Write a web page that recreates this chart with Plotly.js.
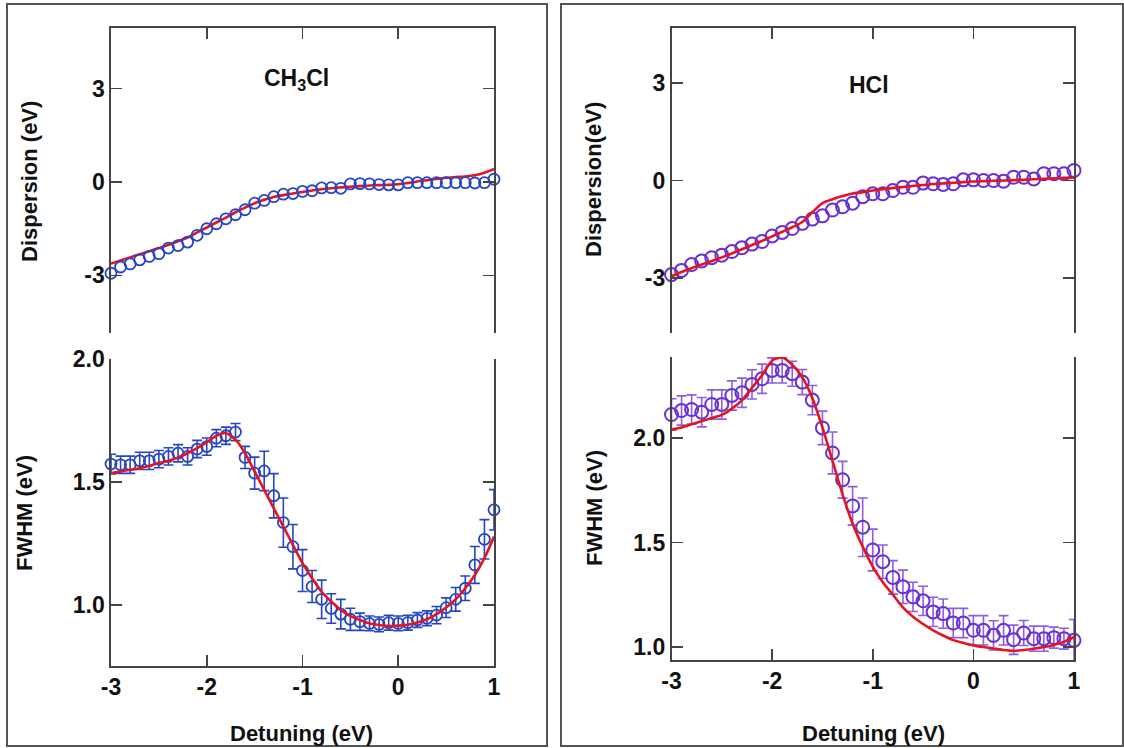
<!DOCTYPE html>
<html>
<head>
<meta charset="utf-8">
<script src="https://cdn.plot.ly/plotly-3.0.1.min.js"></script>
<style>html,body{margin:0;padding:0;background:#fff}#chart{width:1124px;height:748px}</style>
</head>
<body>
<div id="chart"></div>
<script>
// ---------- DATA ----------
const detuning = [-3.0,-2.9,-2.8,-2.7,-2.6,-2.5,-2.4,-2.3,-2.2,-2.1,-2.0,-1.9,-1.8,-1.7,-1.6,-1.5,-1.4,-1.3,-1.2,-1.1,-1.0,-0.9,-0.8,-0.7,-0.6,-0.5,-0.4,-0.3,-0.2,-0.1,0.0,0.1,0.2,0.3,0.4,0.5,0.6,0.7,0.8,0.9,1.0];

// CH3Cl
const ch3clDispData = [-2.93,-2.73,-2.63,-2.50,-2.39,-2.30,-2.12,-2.04,-1.93,-1.71,-1.50,-1.34,-1.18,-1.05,-0.89,-0.68,-0.59,-0.47,-0.39,-0.37,-0.30,-0.28,-0.19,-0.18,-0.20,-0.06,-0.05,-0.06,-0.08,-0.09,-0.09,-0.02,-0.02,-0.02,-0.02,-0.02,-0.02,-0.02,-0.03,-0.02,0.09];
const ch3clDispFit = [-2.62,-2.52,-2.42,-2.32,-2.22,-2.12,-2.02,-1.90,-1.78,-1.62,-1.46,-1.30,-1.14,-0.97,-0.82,-0.68,-0.57,-0.48,-0.42,-0.37,-0.32,-0.27,-0.23,-0.20,-0.17,-0.15,-0.13,-0.11,-0.10,-0.09,-0.07,-0.03,0.02,0.06,0.10,0.14,0.16,0.18,0.22,0.30,0.42];
const ch3clFwhmData = [1.573,1.570,1.570,1.586,1.586,1.593,1.604,1.617,1.604,1.634,1.644,1.678,1.688,1.703,1.600,1.536,1.545,1.444,1.335,1.237,1.140,1.075,1.023,0.986,0.963,0.942,0.932,0.925,0.921,0.928,0.925,0.928,0.939,0.946,0.959,0.989,1.023,1.068,1.163,1.267,1.387];
const ch3clFwhmErr = [0.04,0.035,0.035,0.035,0.035,0.035,0.035,0.035,0.035,0.035,0.035,0.035,0.035,0.035,0.045,0.065,0.08,0.09,0.10,0.09,0.085,0.065,0.078,0.06,0.06,0.045,0.035,0.03,0.03,0.03,0.03,0.03,0.03,0.03,0.035,0.04,0.048,0.05,0.075,0.08,0.082];
const ch3clFwhmFit = [1.536,1.543,1.550,1.556,1.566,1.577,1.586,1.600,1.617,1.638,1.661,1.688,1.699,1.672,1.617,1.543,1.468,1.393,1.319,1.244,1.170,1.109,1.054,1.014,0.980,0.955,0.939,0.925,0.919,0.915,0.916,0.920,0.929,0.942,0.963,0.990,1.023,1.068,1.122,1.190,1.278];

// HCl
const hclDispData = [-2.90,-2.77,-2.59,-2.48,-2.38,-2.30,-2.19,-2.07,-1.96,-1.88,-1.71,-1.60,-1.48,-1.32,-1.19,-1.09,-0.91,-0.81,-0.70,-0.50,-0.41,-0.41,-0.31,-0.21,-0.21,-0.08,-0.10,-0.12,-0.10,0.02,0.02,0.00,0.00,-0.02,0.10,0.10,0.05,0.21,0.21,0.21,0.31];
const hclDispFit = [-2.95,-2.82,-2.70,-2.59,-2.48,-2.37,-2.25,-2.12,-1.99,-1.86,-1.72,-1.58,-1.44,-1.28,-0.98,-0.70,-0.58,-0.48,-0.40,-0.36,-0.31,-0.27,-0.23,-0.20,-0.17,-0.14,-0.11,-0.09,-0.07,-0.05,-0.03,-0.02,-0.01,0.00,0.01,0.02,0.04,0.05,0.07,0.08,0.09];
const hclFwhmData = [2.112,2.131,2.136,2.123,2.160,2.160,2.203,2.216,2.256,2.283,2.323,2.323,2.307,2.267,2.181,2.048,1.928,1.800,1.675,1.573,1.464,1.408,1.333,1.288,1.240,1.221,1.168,1.160,1.115,1.115,1.080,1.080,1.056,1.080,1.035,1.067,1.040,1.040,1.045,1.040,1.032];
const hclFwhmErr = [0.075,0.07,0.07,0.07,0.07,0.07,0.07,0.07,0.07,0.07,0.06,0.06,0.06,0.06,0.07,0.08,0.10,0.088,0.092,0.14,0.10,0.08,0.08,0.08,0.07,0.07,0.07,0.07,0.07,0.07,0.07,0.07,0.07,0.07,0.07,0.06,0.06,0.06,0.05,0.05,0.10];
const hclFwhmFit = [2.040,2.050,2.065,2.080,2.095,2.110,2.140,2.180,2.240,2.300,2.370,2.385,2.350,2.290,2.190,2.050,1.890,1.730,1.590,1.480,1.385,1.310,1.250,1.190,1.145,1.110,1.080,1.055,1.033,1.020,1.008,1.000,0.993,0.986,0.982,0.986,0.992,1.000,1.010,1.025,1.048];

const panelTitles = ['CH<sub>3</sub>Cl', 'HCl'];
const xTickVals = [-3,-2,-1,0,1];
const xTickText = ['-3','-2','-1','0','1'];
const dispTickVals = [-3,0,3];
const dispTickText = ['-3','0','3'];
const fwhmTickVals = [1.0,1.5,2.0];
const fwhmTickText = ['1.0','1.5','2.0'];

// ---------- STYLE ----------
const W = 1124, H = 748;
const px = x => x / W;
const py = y => 1 - y / H;
const BLUE = '#2445c8', PURPLE = '#6a2fd6', PURPLE_ERR = '#8a5ee6', RED = '#e5141e', AX = '#444';
const FONT = {family: 'Liberation Sans, Arial, sans-serif', size: 23, color: '#111', weight: 'bold'};

function xax(domain, anchor, side, labels) {
  return {domain: domain, anchor: anchor, range: [-3, 1], side: side, showline: true, linecolor: AX, linewidth: 1.6,
    ticks: 'inside', ticklen: 11, tickwidth: 1.6, tickcolor: AX, tickmode: 'array', tickvals: xTickVals, ticktext: xTickText,
    showticklabels: labels, tickfont: FONT, showgrid: false, zeroline: false, fixedrange: true};
}
function yax(domain, anchor, range, vals, text) {
  return {domain: domain, anchor: anchor, range: range, showline: true, mirror: 'ticks', linecolor: AX, linewidth: 1.6,
    ticks: 'inside', ticklen: 11, tickwidth: 1.6, tickcolor: AX, tickmode: 'array', tickvals: vals, ticktext: text,
    tickfont: FONT, showgrid: false, zeroline: false, fixedrange: true};
}

const LX = [px(111), px(494)], RX = [px(671.5), px(1074)];
const TOPY = [py(333), py(28)];

function markers(x, y, xa, ya, color, size, err, errColor) {
  const t = {x: x, y: y, xaxis: xa, yaxis: ya, type: 'scatter', mode: 'markers', cliponaxis: false,
    marker: {symbol: 'circle-open', size: size, color: color, line: {width: size > 11 ? 2 : 1.8, color: color}},
    showlegend: false, hoverinfo: 'x+y'};
  if (err) t.error_y = {type: 'data', array: err, visible: true, color: errColor, thickness: 1.6, width: 5};
  return t;
}
function fit(x, y, xa, ya) {
  return {x: x, y: y, xaxis: xa, yaxis: ya, type: 'scatter', mode: 'lines', cliponaxis: false,
    line: {color: RED, width: 2.6, shape: 'spline', smoothing: 0.6}, showlegend: false, hoverinfo: 'x+y'};
}

const data = [
  fit(detuning, ch3clDispFit, 'x', 'y'),
  markers(detuning, ch3clDispData, 'x', 'y', BLUE, 11),
  markers(detuning, ch3clFwhmData, 'x2', 'y2', BLUE, 11, ch3clFwhmErr, BLUE),
  fit(detuning, ch3clFwhmFit, 'x2', 'y2'),
  markers(detuning, hclDispData, 'x3', 'y3', PURPLE, 13),
  fit(detuning, hclDispFit, 'x3', 'y3'),
  markers(detuning, hclFwhmData, 'x4', 'y4', PURPLE, 13, hclFwhmErr, PURPLE_ERR),
  fit(detuning, hclFwhmFit, 'x4', 'y4')
];

function ann(text, x, y, angle, size) {
  return {text: text, x: px(x), y: py(y), xref: 'paper', yref: 'paper', showarrow: false,
    textangle: angle || 0, xanchor: 'center', yanchor: 'middle',
    font: Object.assign({}, FONT, {size: size || 22})};
}

const layout = {
  width: W, height: H, autosize: false, paper_bgcolor: '#fff', plot_bgcolor: 'rgba(0,0,0,0)',
  margin: {l: 0, r: 0, t: 0, b: 0}, showlegend: false,
  xaxis: xax(LX, 'y', 'top', false),
  yaxis: yax(TOPY, 'x', [-4.85, 4.95], dispTickVals, dispTickText),
  xaxis2: xax(LX, 'y2', 'bottom', true),
  yaxis2: yax([py(666), py(359)], 'x2', [0.752, 2.0], fwhmTickVals, fwhmTickText),
  xaxis3: xax(RX, 'y3', 'top', false),
  yaxis3: yax(TOPY, 'x3', [-4.7, 4.7], dispTickVals, dispTickText),
  xaxis4: xax(RX, 'y4', 'bottom', true),
  yaxis4: yax([py(660), py(357)], 'x4', [0.938, 2.387], fwhmTickVals, fwhmTickText),
  shapes: [
    {type: 'rect', xref: 'paper', yref: 'paper', x0: px(7), x1: px(547), y0: py(746), y1: py(4), line: {color: '#555', width: 2}},
    {type: 'rect', xref: 'paper', yref: 'paper', x0: px(561), x1: px(1123), y0: py(746), y1: py(4), line: {color: '#555', width: 2}}
  ],
  annotations: [
    ann(panelTitles[0], 296, 80, 0, 23),
    ann(panelTitles[1], 869, 85, 0, 23),
    ann('Dispersion (eV)', 30, 182, -90),
    ann('FWHM (eV)', 24, 513, -90),
    ann('Dispersion(eV)', 594, 180, -90),
    ann('FWHM (eV)', 594, 508, -90),
    ann('Detuning (eV)', 301, 733, 0),
    ann('Detuning (eV)', 873, 733, 0)
  ]
};

Plotly.newPlot('chart', data, layout, {displayModeBar: false, staticPlot: true});
</script>
</body>
</html>
